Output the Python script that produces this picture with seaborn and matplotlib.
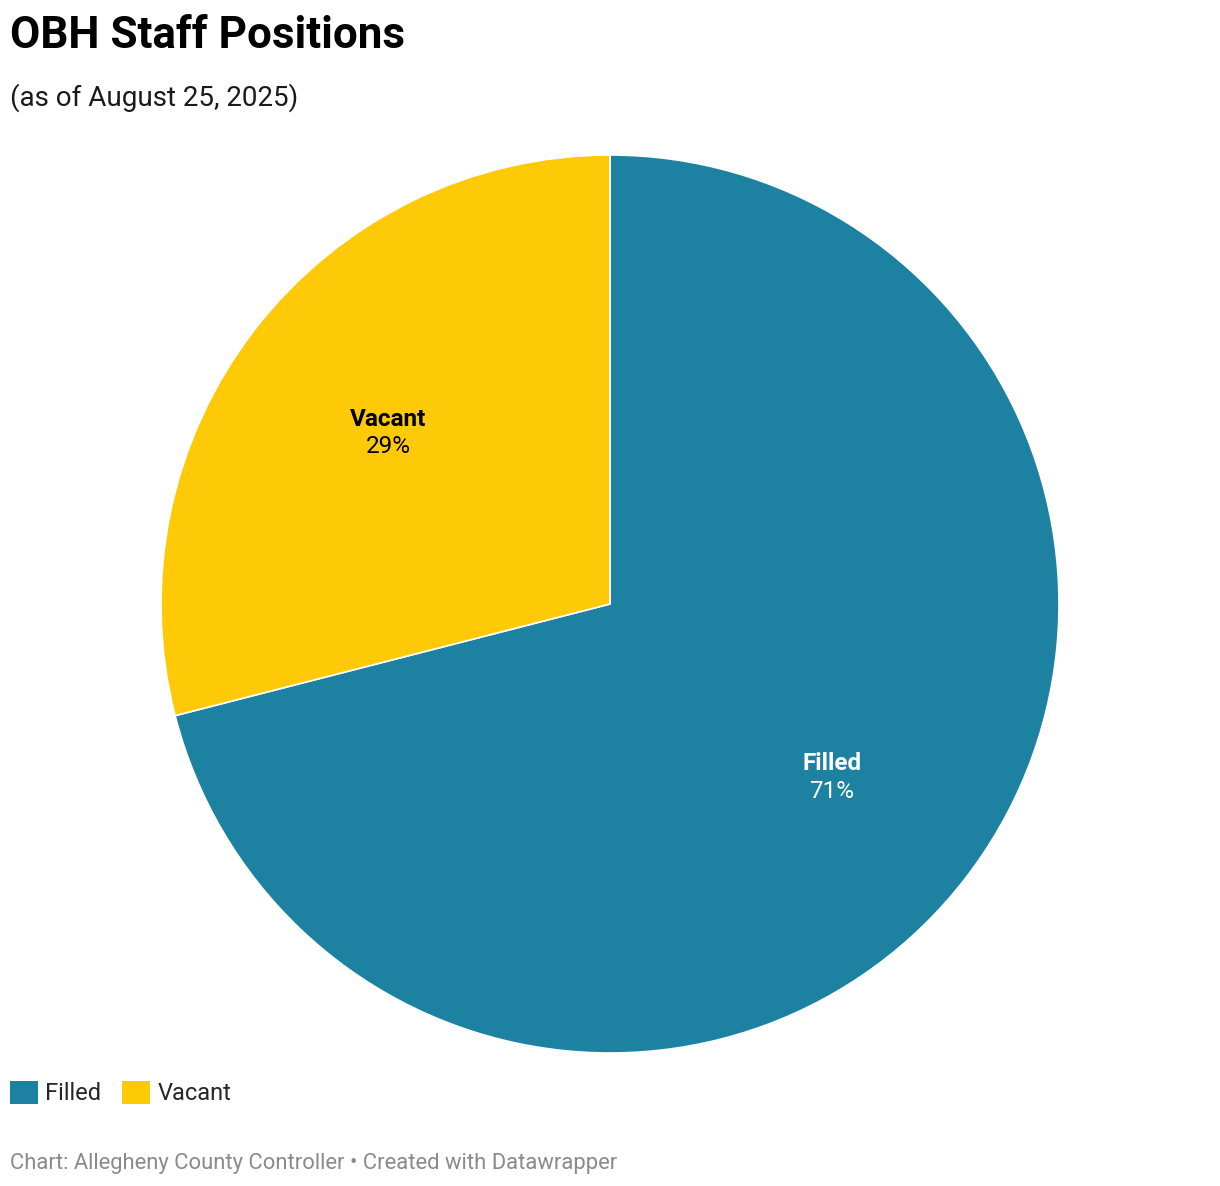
import matplotlib
matplotlib.use('Agg')
import matplotlib.pyplot as plt
import matplotlib.patches as mpatches
import numpy as np
import seaborn as sns

# data
categories = ['Filled', 'Vacant']
shares = [71, 29]
colors = ['#1d82a2', '#fec907']
label_colors = ['white', 'black']

sns.set_theme(style='white')
plt.rcParams['font.family'] = ['Roboto', 'DejaVu Sans']

W, H = 1220, 1186
fig = plt.figure(figsize=(W / 100, H / 100), dpi=100)
fig.patch.set_facecolor('white')

# pie axes: centre (610, 604), radius 449 px
cx, cy, r = 610, 604, 449
ax = fig.add_axes([(cx - r) / W, (H - cy - r) / H, 2 * r / W, 2 * r / H])
wedges, _ = ax.pie(shares, colors=colors, startangle=90, counterclock=False,
                   wedgeprops=dict(edgecolor='white', linewidth=1.2))
ax.set_xlim(-1, 1)
ax.set_ylim(-1, 1)
ax.set_aspect('equal')
ax.axis('off')

for w, cat, val, tc in zip(wedges, categories, shares, label_colors):
    mid = np.deg2rad((w.theta1 + w.theta2) / 2)
    x, y = 0.626 * np.cos(mid), 0.626 * np.sin(mid)
    ax.text(x, y + 0.002, cat, ha='center', va='bottom', fontsize=17.5,
            fontweight='bold', color=tc)
    ax.text(x, y - 0.008, f'{val}%', ha='center', va='top', fontsize=17.5,
            color=tc)

# title and subtitle
fig.text(10 / W, 1 - 36 / H, 'OBH Staff Positions', fontsize=31.7, fontweight='bold',
         color='black', va='center', ha='left')
fig.text(10 / W, 1 - 98 / H, '(as of August 25, 2025)', fontsize=20,
         color='#1a1a1a', va='center', ha='left')

# legend
handles = [mpatches.Patch(facecolor=c, edgecolor='none', label=l)
           for c, l in zip(colors, categories)]
fig.legend(handles=handles, loc='center left', bbox_to_anchor=(10 / W, 1 - 1093 / H),
           ncol=2, frameon=False, fontsize=17, handlelength=1.18, handleheight=1.18,
           handletextpad=0.3, columnspacing=0.9, borderpad=0, borderaxespad=0)

# footer
fig.text(10 / W, 1 - 1163 / H, 'Chart: Allegheny County Controller • Created with Datawrapper',
         fontsize=15.8, color='#8a8a8a', va='center', ha='left')

fig.savefig('out.png', dpi=100, facecolor='white')
